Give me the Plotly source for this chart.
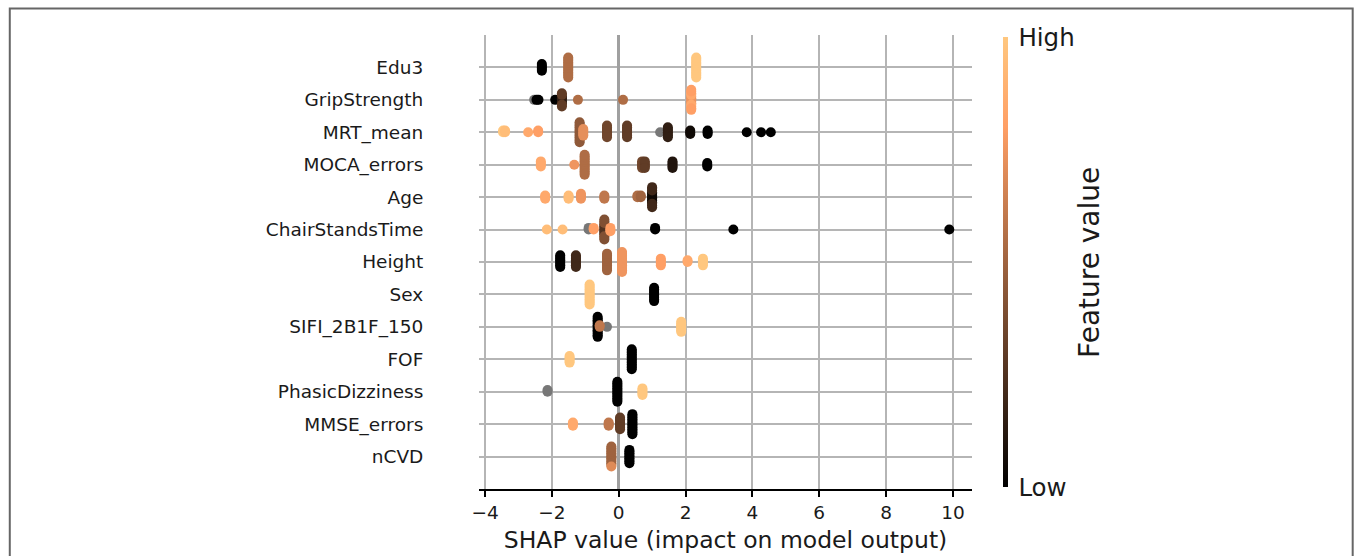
import numpy as np
import plotly.graph_objects as go

# Features from bottom row to top row
features = ["nCVD", "MMSE_errors", "PhasicDizziness", "FOF", "SIFI_2B1F_150", "Sex",
            "Height", "ChairStandsTime", "Age", "MOCA_errors", "MRT_mean",
            "GripStrength", "Edu3"]

# Each entry: (SHAP value, normalised feature value or None for missing, number of samples)
nCVD = [(-0.22, 0.50, 12), (-0.22, 0.70, 1), (0.32, 0.0, 9)]
MMSE_errors = [(-1.37, 0.85, 3), (-0.30, 0.60, 3), (0.04, 0.30, 8), (0.41, 0.0, 13)]
PhasicDizziness = [(-2.13, None, 2), (-0.04, 0.0, 13), (0.71, 1.0, 5)]
FOF = [(-1.47, 1.0, 5), (0.39, 0.0, 13)]
SIFI_2B1F_150 = [(-0.63, 0.0, 13), (-0.57, 0.60, 2), (-0.35, None, 1), (1.87, 1.0, 7)]
Sex = [(-0.87, 1.0, 13), (1.06, 0.0, 9)]
Height = [(-1.75, 0.0, 8), (-1.28, 0.20, 8), (-0.35, 0.50, 11), (0.10, 0.75, 13),
          (1.26, 0.80, 5), (2.06, 0.85, 2), (2.52, 1.0, 5)]
ChairStandsTime = [(-2.15, 0.95, 1), (-1.68, 0.95, 1), (-0.90, None, 2), (-0.75, 0.80, 2),
                   (-0.43, 0.25, 7), (-0.43, 0.40, 6), (-0.25, 0.80, 3), (1.09, 0.0, 2),
                   (3.43, 0.0, 1), (9.89, 0.0, 1)]
Age = [(-2.20, 0.85, 3), (-1.50, 0.95, 3), (-1.13, 0.75, 4), (-0.43, 0.60, 3),
       (0.56, 0.55, 2), (0.66, 0.50, 2), (1.00, 0.05, 7), (1.00, 0.20, 6)]
MOCA_errors = [(-2.33, 0.85, 4), (-1.33, 0.75, 1), (-1.02, 0.55, 13), (0.70, 0.35, 5),
               (0.78, 0.30, 5), (1.61, 0.10, 5), (2.65, 0.0, 3)]
MRT_mean = [(-3.46, 1.0, 2), (-3.40, 0.95, 2), (-2.71, 0.85, 1), (-2.41, 0.80, 2),
            (-1.17, 0.45, 13), (-1.06, 0.72, 5), (-0.35, 0.35, 8), (0.25, 0.30, 8),
            (1.24, None, 1), (1.47, 0.15, 7), (2.14, 0.05, 3), (2.66, 0.0, 3),
            (3.83, 0.0, 1), (4.26, 0.0, 1), (4.55, 0.0, 1)]
GripStrength = [(-2.53, None, 1), (-2.46, 0.0, 1), (-2.40, 0.0, 1), (-1.90, 0.0, 1),
                (-1.70, 0.15, 5), (-1.70, 0.30, 4), (-1.22, 0.55, 1), (0.13, 0.55, 1),
                (2.17, 0.75, 5), (2.17, 0.85, 4), (2.17, 0.80, 4)]
Edu3 = [(-2.30, 0.0, 5), (-1.51, 0.55, 13), (2.32, 1.0, 13)]

rows = [nCVD, MMSE_errors, PhasicDizziness, FOF, SIFI_2B1F_150, Sex, Height,
        ChairStandsTime, Age, MOCA_errors, MRT_mean, GripStrength, Edu3]

x_ticks = [-4, -2, 0, 2, 4, 6, 8, 10]

# matplotlib "copper" colormap
copper = [[0.0, "rgb(0,0,0)"], [0.8, "rgb(255,159,101)"], [1.0, "rgb(255,199,127)"]]
NAN_COLOR = "#777777"


def swarm_offsets(vals, row_height=0.4, nbins=100):
    """Vertical jitter for a beeswarm row: stack points falling in the same bin."""
    vals = np.asarray(vals, float)
    quant = np.round(nbins * (vals - vals.min()) / (vals.max() - vals.min() + 1e-8))
    order = np.argsort(quant, kind="stable")
    ys = np.zeros(len(vals))
    layer, last = 0, None
    for i in order:
        if quant[i] != last:
            layer = 0
        ys[i] = np.ceil(layer / 2) * ((layer % 2) * 2 - 1)
        layer += 1
        last = quant[i]
    ys *= 0.9 * (row_height / np.max(ys + 1))
    return ys


fig = go.Figure()
first = True
for pos, clusters in enumerate(rows):
    shap_vals, fvals = [], []
    for s, f, n in clusters:
        shap_vals += [s] * n
        fvals += [f] * n
    ys = pos + swarm_offsets(shap_vals)
    shap_vals = np.array(shap_vals)
    missing = np.array([f is None for f in fvals])
    if missing.any():
        fig.add_trace(go.Scatter(
            x=shap_vals[missing], y=ys[missing], mode="markers",
            marker=dict(size=10, color=NAN_COLOR, line=dict(width=0)),
            hoverinfo="skip"))
    known = ~missing
    colors = [f for f in fvals if f is not None]
    marker = dict(size=10, color=colors, colorscale=copper, cmin=0, cmax=1,
                  line=dict(width=0))
    if first:
        marker.update(showscale=True, colorbar=dict(
            thickness=5, len=450, lenmode="pixels",
            x=(1003 - 478.6) / 493.4, xanchor="left", xpad=0,
            y=0.5, yanchor="middle", ypad=0, outlinewidth=0,
            tickvals=[0, 1], ticktext=["Low", "High"],
            ticks="outside", ticklen=6, tickcolor="rgba(0,0,0,0)",
            tickfont=dict(size=24.5, color="#1a1a1a")))
        first = False
    fig.add_trace(go.Scatter(x=shap_vals[known], y=ys[known], mode="markers",
                             marker=marker, hoverinfo="skip"))

fig.update_layout(
    width=1355, height=556,
    margin=dict(l=478.6, r=383, t=34.5, b=66.5),
    plot_bgcolor="white", paper_bgcolor="white", showlegend=False,
    font=dict(family="DejaVu Sans", color="#1a1a1a"),
    annotations=[dict(text="Feature value", textangle=-90, showarrow=False,
                      xref="paper", yref="paper", x=(1089 - 478.6) / 493.4, y=0.5,
                      xanchor="center", yanchor="middle",
                      font=dict(size=28, color="#1a1a1a"))],
    shapes=[dict(type="rect", xref="paper", yref="paper",
                 x0=(9 - 478.6) / 493.4, x1=(1353 - 478.6) / 493.4,
                 y0=(489.5 - 580) / 455, y1=(489.5 - 8) / 455,
                 line=dict(color="#666666", width=2), layer="below")],
)

fig.update_xaxes(
    automargin=False,
    range=[-4.18, 10.57], tickvals=x_ticks,
    ticktext=[("\u2212" + str(-t)) if t < 0 else str(t) for t in x_ticks],
    showline=True, linecolor="black", linewidth=1.5,
    ticks="outside", ticklen=6, tickwidth=1.5, tickcolor="black",
    tickfont=dict(size=18.5),
    showgrid=True, gridcolor="#b5b5b5", gridwidth=2,
    zeroline=True, zerolinecolor="#a0a0a0", zerolinewidth=3,
    title=dict(text="SHAP value (impact on model output)", font=dict(size=23.5), standoff=10),
)
fig.update_yaxes(
    automargin=False,
    range=[-1, 13], tickvals=list(range(len(features))), ticktext=features,
    showline=False, zeroline=False,
    ticks="outside", ticklen=51, tickcolor="rgba(0,0,0,0)",
    tickfont=dict(size=18.5),
    showgrid=True, gridcolor="#b5b5b5", gridwidth=2,
)

fig.write_html("out.html")
